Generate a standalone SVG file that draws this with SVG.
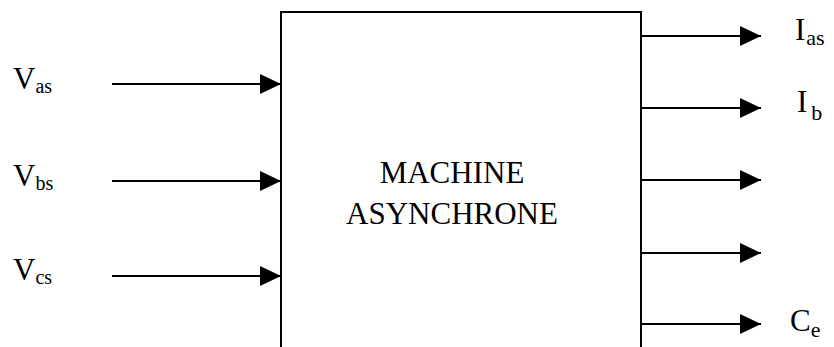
<svg xmlns="http://www.w3.org/2000/svg" width="834" height="347" viewBox="0 0 834 347">
  <defs>
    <style>
      .wire { stroke: #000; stroke-width: 2; fill: none; }
      .block { stroke: #000; stroke-width: 2; fill: #fff; }
      .lbl { font-family: "Liberation Serif", "Times New Roman", serif; font-size: 31px; fill: #000; }
      .sub { font-size: 20px; }
      .sub2 { font-size: 22px; }
    </style>
    <marker id="head" markerUnits="userSpaceOnUse" markerWidth="22" markerHeight="22" refX="21" refY="10" orient="auto">
      <path d="M0,0 L21,10 L0,20 Z" fill="#000"/>
    </marker>
  </defs>
  <rect width="834" height="347" fill="#fff"/>

  <!-- machine block, open at the bottom edge -->
  <g id="machine">
    <rect class="block" x="281" y="12" width="360" height="345"/>
    <text class="lbl" x="452" y="183" text-anchor="middle">MACHINE</text>
    <text class="lbl" x="452" y="224" text-anchor="middle">ASYNCHRONE</text>
  </g>

  <!-- inputs on the left, outputs on the right -->
  <g id="connectors">
    <line class="wire" x1="112" y1="84" x2="281" y2="84" marker-end="url(#head)"/>
    <line class="wire" x1="112" y1="181" x2="281" y2="181" marker-end="url(#head)"/>
    <line class="wire" x1="112" y1="276" x2="281" y2="276" marker-end="url(#head)"/>
    <line class="wire" x1="641" y1="36" x2="761" y2="36" marker-end="url(#head)"/>
    <line class="wire" x1="641" y1="108" x2="761" y2="108" marker-end="url(#head)"/>
    <line class="wire" x1="641" y1="180" x2="761" y2="180" marker-end="url(#head)"/>
    <line class="wire" x1="641" y1="253" x2="761" y2="253" marker-end="url(#head)"/>
    <line class="wire" x1="641" y1="324" x2="761" y2="324" marker-end="url(#head)"/>
  </g>

  <g id="in-vas"><text class="lbl" x="13" y="89">V<tspan class="sub" dy="4">as</tspan></text></g>
  <g id="in-vbs"><text class="lbl" x="13" y="186">V<tspan class="sub" dy="4">bs</tspan></text></g>
  <g id="in-vcs"><text class="lbl" x="13" y="280">V<tspan class="sub" dy="4">cs</tspan></text></g>
  <g id="out-ias"><text class="lbl" x="795" y="40">I<tspan class="sub2" dx="1" dy="5">as</tspan></text></g>
  <g id="out-ib"><text class="lbl" x="797" y="112">I<tspan class="sub2" dx="4" dy="8">b</tspan></text></g>
  <g id="out-ce"><text class="lbl" x="790" y="331">C<tspan class="sub2" dy="6">e</tspan></text></g>
</svg>
